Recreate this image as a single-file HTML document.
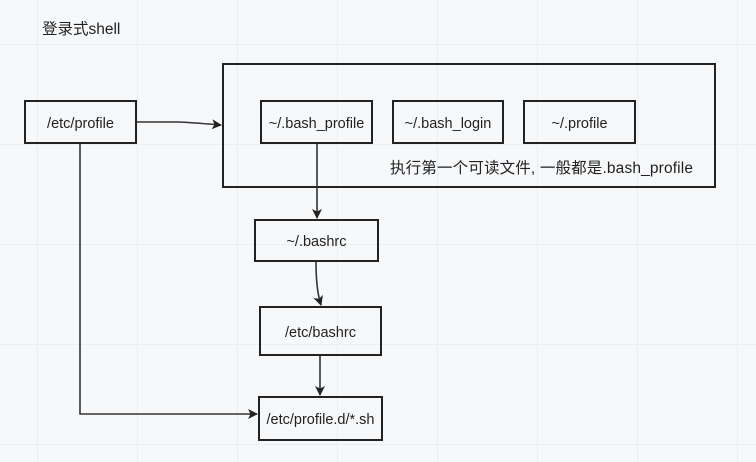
<!DOCTYPE html>
<html><head><meta charset="utf-8"><style>
html,body{margin:0;padding:0;}
body{width:756px;height:462px;overflow:hidden;background:#f7f8fa;}
svg{display:block;font-family:"Liberation Sans","Noto Sans CJK SC",sans-serif;}
</style></head><body>
<svg width="756" height="462" viewBox="0 0 756 462">
<defs>
<pattern id="g" x="37" y="44" width="100" height="100" patternUnits="userSpaceOnUse">
<path d="M0 0H100M0 0V100" stroke="#e6e7ea" stroke-width="1.2" fill="none"/>
</pattern>
<marker id="a" markerWidth="10" markerHeight="10" refX="9" refY="5" orient="auto" markerUnits="userSpaceOnUse">
<path d="M0 0L10 5L0 10L2.5 5Z" fill="#222"/>
</marker>
</defs>
<rect width="756" height="462" fill="url(#g)"/>
<text x="42" y="34" font-size="15.5" fill="#222">登录式shell</text>
<g fill="none" stroke="#222" stroke-width="2">
<rect x="223" y="64" width="492" height="123"/>
<rect x="25" y="101" width="111" height="42"/>
<rect x="261" y="101" width="111" height="42"/>
<rect x="393" y="101" width="110" height="42"/>
<rect x="524" y="101" width="111" height="42"/>
<rect x="255" y="220" width="123" height="41"/>
<rect x="260" y="307" width="121" height="48"/>
<rect x="259" y="397" width="123" height="43"/>
</g>
<g fill="none" stroke="#333" stroke-width="1.6" marker-end="url(#a)">
<path d="M137 122H178Q184 122 221 125"/>
<path d="M317 144V218"/>
<path d="M316 262Q316 290 321 305"/>
<path d="M320 356V395"/>
<path d="M80 144V414H257"/>
</g>
<g font-size="14.5" fill="#222" text-anchor="middle">
<text x="80.5" y="128">/etc/profile</text>
<text x="316.5" y="128">~/.bash_profile</text>
<text x="448" y="128">~/.bash_login</text>
<text x="579.5" y="128">~/.profile</text>
<text x="316.5" y="246">~/.bashrc</text>
<text x="320.5" y="337">/etc/bashrc</text>
<text x="320.5" y="424">/etc/profile.d/*.sh</text>
</g>
<text x="390" y="173" font-size="15.5" fill="#222" textLength="303">执行第一个可读文件, 一般都是.bash_profile</text>
</svg>
</body></html>
